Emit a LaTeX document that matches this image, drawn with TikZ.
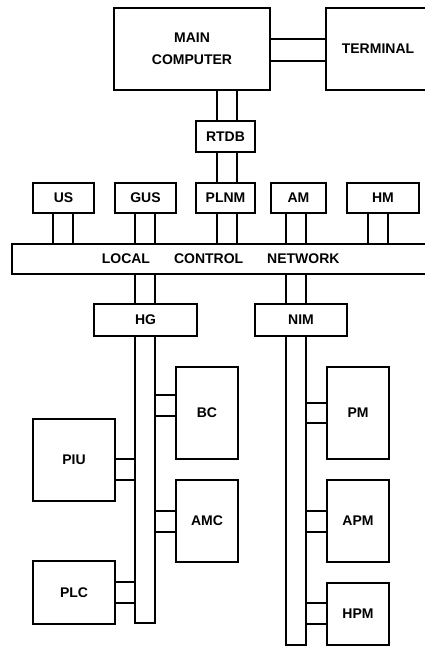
\documentclass[tikz,border=0pt]{standalone}
\usepackage{fontspec}
\setmainfont{Liberation Sans}
\begin{document}
\begin{tikzpicture}[x=1pt,y=-1pt,
  box/.style={draw,line width=1.3pt,rectangle,inner sep=0pt,anchor=center,
    font=\fontsize{14}{22}\selectfont\bfseries,align=center},
  conn/.style={line width=1.3pt}]
\useasboundingbox (0,0) rectangle (425,649);
\clip (0,0) rectangle (425,649);
\newcommand\vpair[4]{%
  \draw[conn] ([xshift=#3]#1) -- ([xshift=#3]#1 |- #2);
  \draw[conn] ([xshift=#4]#1) -- ([xshift=#4]#1 |- #2);}
\newcommand\hpair[4]{%
  \draw[conn] ([yshift=#3]#1) -- ([yshift=#3]#1 -| #2);
  \draw[conn] ([yshift=#4]#1) -- ([yshift=#4]#1 -| #2);}
% top
\node[box,minimum width=156pt,minimum height=82pt] (mc) at (192,49) {MAIN\\COMPUTER};
\node[box,minimum width=104pt,minimum height=82pt] (term) at (378,49) {TERMINAL};
\node[box,minimum width=59pt,minimum height=31pt] (rtdb) at (225.5,136.5) {RTDB};
% row
\node[box,minimum width=61pt,minimum height=30pt] (us) at (63.5,198) {US};
\node[box,minimum width=61pt,minimum height=30pt] (gus) at (145.5,198) {GUS};
\node[box,minimum width=59pt,minimum height=30pt] (plnm) at (225.5,198) {PLNM};
\node[box,minimum width=55pt,minimum height=30pt] (am) at (298.5,198) {AM};
\node[box,minimum width=72pt,minimum height=30pt] (hm) at (383,198) {HM};
% network
\node[box,minimum width=417.4pt,minimum height=30pt] (lcn) at (220.7,259)
  {LOCAL\hspace{24pt}CONTROL\hspace{24pt}NETWORK};
% gateways
\node[box,minimum width=103pt,minimum height=32pt] (hg) at (145.5,320) {HG};
\node[box,minimum width=92pt,minimum height=32pt] (nim) at (301,320) {NIM};
% buses
\node[box,minimum width=20pt,minimum height=287pt] (hgbus) at (145,479.5) {};
\node[box,minimum width=20pt,minimum height=309pt] (nimbus) at (296,490.5) {};
% devices
\node[box,minimum width=62pt,minimum height=92pt] (bc) at (207,413) {BC};
\node[box,minimum width=62pt,minimum height=92pt] (pm) at (358,413) {PM};
\node[box,minimum width=82pt,minimum height=82pt] (piu) at (74,460) {PIU};
\node[box,minimum width=62pt,minimum height=82pt] (amc) at (207,521) {AMC};
\node[box,minimum width=62pt,minimum height=82pt] (apm) at (358,521) {APM};
\node[box,minimum width=82pt,minimum height=63pt] (plc) at (74,592.5) {PLC};
\node[box,minimum width=62pt,minimum height=62pt] (hpm) at (358,614) {HPM};
% connectors
\hpair{mc.east}{term.west}{10pt}{-12pt}
\vpair{mc.south}{rtdb.north}{25pt}{45pt}
\vpair{rtdb.south}{plnm.north}{-8.5pt}{11.5pt}
\vpair{us.south}{lcn.north}{-10.5pt}{9.5pt}
\vpair{gus.south}{lcn.north}{-10.5pt}{9.5pt}
\vpair{plnm.south}{lcn.north}{-8.5pt}{11.5pt}
\vpair{am.south}{lcn.north}{-12.5pt}{7.5pt}
\vpair{hm.south}{lcn.north}{-15pt}{5pt}
\vpair{hg.north}{lcn.south}{-10.5pt}{9.5pt}
\vpair{nim.north}{lcn.south}{-15pt}{5pt}
\hpair{bc.west}{hgbus.east}{18pt}{-3pt}
\hpair{pm.west}{nimbus.east}{10pt}{-10pt}
\hpair{piu.east}{hgbus.west}{1pt}{-20pt}
\hpair{amc.west}{hgbus.east}{10pt}{-11pt}
\hpair{apm.west}{nimbus.east}{10pt}{-11pt}
\hpair{plc.east}{hgbus.west}{10.5pt}{-10.5pt}
\hpair{hpm.west}{nimbus.east}{11pt}{-10pt}
\end{tikzpicture}
\end{document}
